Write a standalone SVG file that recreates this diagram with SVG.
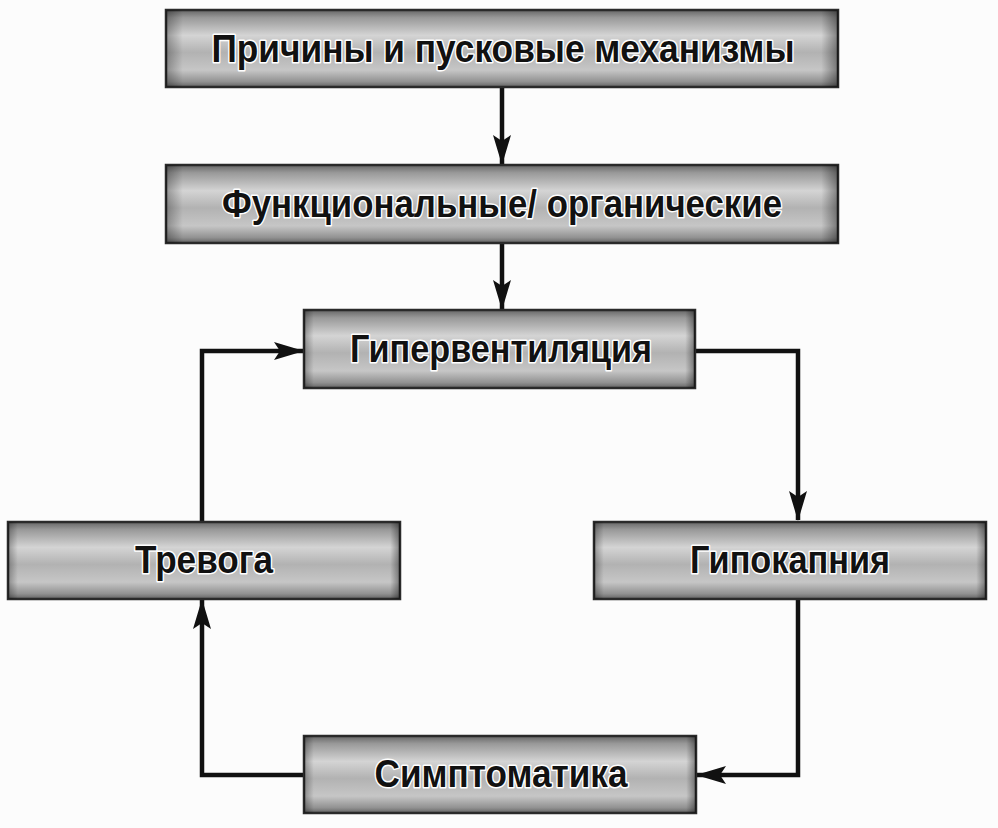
<svg xmlns="http://www.w3.org/2000/svg" width="998" height="828" viewBox="0 0 998 828">
  <defs>
    <linearGradient id="gV" x1="0" y1="0" x2="0" y2="1">
      <stop offset="0" stop-color="#666"/>
      <stop offset="0.1" stop-color="#999"/>
      <stop offset="0.33" stop-color="#d4d4d4"/>
      <stop offset="0.55" stop-color="#b2b2b2"/>
      <stop offset="0.78" stop-color="#c6c6c6"/>
      <stop offset="0.93" stop-color="#929292"/>
      <stop offset="1" stop-color="#636363"/>
    </linearGradient>
    <linearGradient id="gH" x1="0" y1="0" x2="1" y2="0">
      <stop offset="0" stop-color="#000" stop-opacity="0.3"/>
      <stop offset="0.025" stop-color="#000" stop-opacity="0"/>
      <stop offset="0.975" stop-color="#000" stop-opacity="0"/>
      <stop offset="1" stop-color="#000" stop-opacity="0.4"/>
    </linearGradient>
    <marker id="arr" viewBox="0 0 30 20" refX="29" refY="10" markerWidth="30" markerHeight="20" markerUnits="userSpaceOnUse" orient="auto">
      <path d="M0,1 L30,10 L0,19 L6,10 Z" fill="#111"/>
    </marker>
  </defs>
  <style>
    .box{fill:url(#gV);stroke:#2a2a2a;stroke-width:2.5}
    .edge{fill:url(#gH)}
    .lbl{font-family:"Liberation Sans",Arial,sans-serif;font-weight:bold;font-size:38px;fill:#111;stroke:#fff;stroke-width:3;stroke-linejoin:round;paint-order:stroke;text-anchor:middle}
    .con{fill:none;stroke:#111;stroke-width:4.5;stroke-linejoin:miter}
  </style>
  <rect width="998" height="828" fill="#fcfcfc"/>

  <g id="connectors">
    <path class="con" d="M502,87 L502,164" marker-end="url(#arr)"/>
    <path class="con" d="M502,243 L502,309" marker-end="url(#arr)"/>
    <path class="con" d="M678,351 L798,351 L798,520" marker-end="url(#arr)"/>
    <path class="con" d="M798,599 L798,775 L697,775" marker-end="url(#arr)"/>
    <path class="con" d="M303,775 L202,775 L202,600" marker-end="url(#arr)"/>
    <path class="con" d="M202,522 L202,351 L303,351" marker-end="url(#arr)"/>
  </g>

  <g id="n1">
    <rect class="box" x="166" y="10" width="672" height="77"/>
    <rect class="edge" x="166" y="10" width="672" height="77"/>
    <text class="lbl" x="503" y="62" textLength="583" lengthAdjust="spacingAndGlyphs">Причины и пусковые механизмы</text>
  </g>
  <g id="n2">
    <rect class="box" x="166" y="165" width="672" height="78"/>
    <rect class="edge" x="166" y="165" width="672" height="78"/>
    <text class="lbl" x="502" y="217" textLength="560" lengthAdjust="spacingAndGlyphs">Функциональные/ органические</text>
  </g>
  <g id="n3">
    <rect class="box" x="304" y="310" width="391" height="78"/>
    <rect class="edge" x="304" y="310" width="391" height="78"/>
    <text class="lbl" x="501" y="362" textLength="302" lengthAdjust="spacingAndGlyphs">Гипервентиляция</text>
  </g>
  <g id="n4">
    <rect class="box" x="594" y="522" width="392" height="77"/>
    <rect class="edge" x="594" y="522" width="392" height="77"/>
    <text class="lbl" x="790" y="573" textLength="200" lengthAdjust="spacingAndGlyphs">Гипокапния</text>
  </g>
  <g id="n5">
    <rect class="box" x="8" y="522" width="392" height="77"/>
    <rect class="edge" x="8" y="522" width="392" height="77"/>
    <text class="lbl" x="204" y="573" textLength="138" lengthAdjust="spacingAndGlyphs">Тревога</text>
  </g>
  <g id="n6">
    <rect class="box" x="304" y="736" width="392" height="77"/>
    <rect class="edge" x="304" y="736" width="392" height="77"/>
    <text class="lbl" x="501" y="787" textLength="253" lengthAdjust="spacingAndGlyphs">Симптоматика</text>
  </g>
</svg>
